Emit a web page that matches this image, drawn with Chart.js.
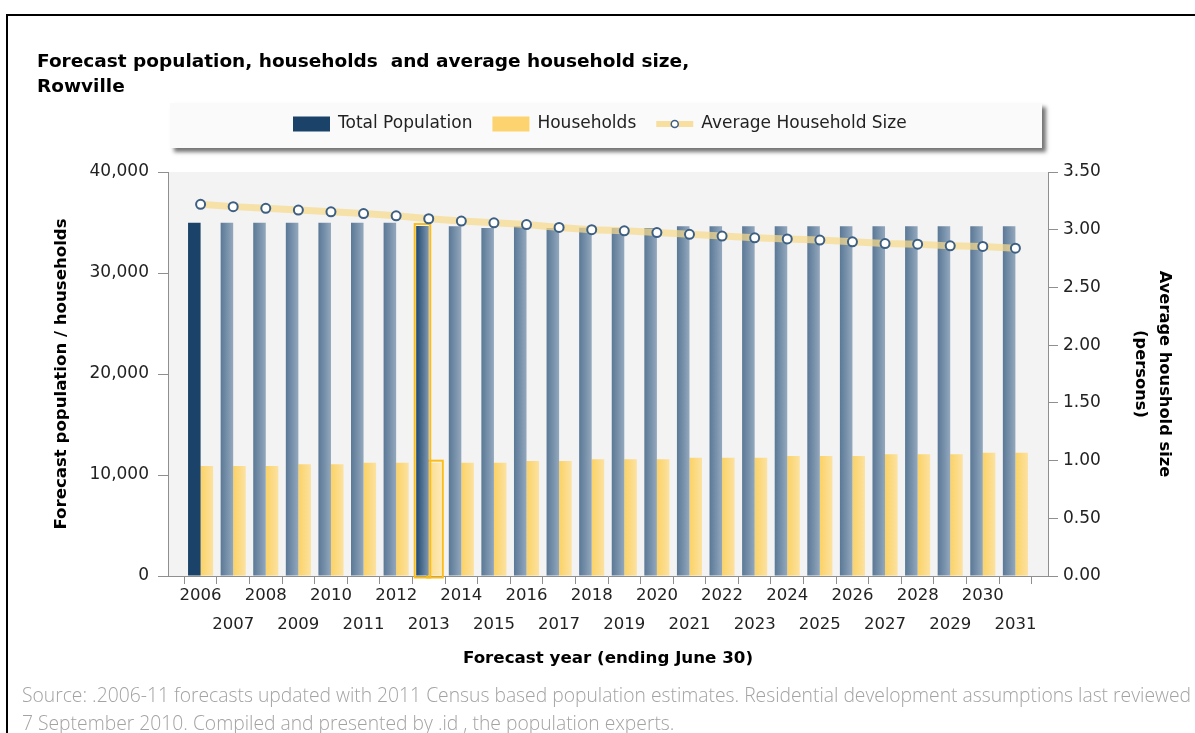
<!DOCTYPE html>
<html>
<head>
<meta charset="utf-8">
<title>Forecast population, households and average household size, Rowville</title>
<script src="https://cdn.jsdelivr.net/npm/chart.js@4.4.1/dist/chart.umd.min.js"></script>
<style>
  html, body { margin: 0; padding: 0; background: #fff; width: 1195px; height: 733px; overflow: hidden; }
  #frame { position: absolute; left: 6px; top: 14px; width: 1400px; height: 900px;
           border-left: 2px solid #000; border-top: 2px solid #000; }
  #wrap { position: absolute; left: 0; top: 0; width: 1195px; height: 690px; }
  #source { position: absolute; left: 22px; top: 681px; font-family: "Open Sans", sans-serif;
            font-weight: 300; font-size: 19.3px; line-height: 28px; color: #a3a3a3; white-space: nowrap; }
</style>
</head>
<body>
<div id="frame"></div>
<div id="wrap"><canvas id="chart" width="1195" height="690"></canvas></div>
<div id="source">Source: .2006-11 forecasts updated with 2011 Census based population estimates. Residential development assumptions last reviewed<br>7 September 2010. Compiled and presented by .id , the population experts.</div>

<script>
// Forecast years (ending June 30)
const years = [2006, 2007, 2008, 2009, 2010, 2011, 2012, 2013, 2014, 2015, 2016, 2017, 2018,
               2019, 2020, 2021, 2022, 2023, 2024, 2025, 2026, 2027, 2028, 2029, 2030, 2031];

// Total population per year
const totalPopulation = [34980, 34980, 34980, 34980, 34980, 34980, 34980, 34650, 34620, 34460,
                         34620, 34450, 34490, 34460, 34460, 34620, 34620, 34620, 34620, 34620,
                         34620, 34620, 34620, 34620, 34620, 34620];

// Number of households per year
const households = [10890, 10890, 10890, 11060, 11060, 11220, 11220, 11220, 11220, 11220,
                    11390, 11390, 11550, 11550, 11550, 11720, 11720, 11720, 11880, 11880,
                    11880, 12050, 12050, 12050, 12210, 12210];

// Average household size (persons)
const avgHouseholdSize = [3.22, 3.20, 3.185, 3.17, 3.155, 3.14, 3.12, 3.095, 3.075, 3.06,
                          3.045, 3.02, 3.00, 2.99, 2.975, 2.96, 2.945, 2.93, 2.92, 2.91,
                          2.895, 2.88, 2.875, 2.86, 2.855, 2.84];

// Axis ranges
const popAxis = { min: 0, max: 40000, step: 10000 };
const sizeAxis = { min: 0, max: 3.5, step: 0.5 };

const selectedYear = 2006;   // drawn in solid navy
const highlightYear = 2013;  // outlined in gold

const FONT = '"DejaVu Sans", Verdana, sans-serif';
const CAT_PCT = 0.77;

Chart.defaults.font.family = FONT;
Chart.defaults.color = '#222';

// Horizontal shading across each bar
function shadedBar(datasetSide, normal, selected, highlighted) {
  return (c) => {
    if (c.type !== 'data') return normal[0];
    const chart = c.chart;
    const xs = chart.scales.x;
    const yr = years[c.dataIndex];
    let stops = normal;
    if (yr === selectedYear && selected) return selected;
    if (yr === highlightYear && highlighted) stops = highlighted;
    if (!xs || !isFinite(xs.getPixelForValue(yr))) return stops[0];
    const cx = xs.getPixelForValue(yr);
    const w = (xs.getPixelForValue(yr + 1) - cx) * CAT_PCT / 2;
    const x0 = datasetSide === 0 ? cx - w : cx;
    const g = chart.ctx.createLinearGradient(x0, 0, x0 + w, 0);
    g.addColorStop(0, stops[0]);
    g.addColorStop(1, stops[1]);
    return g;
  };
}

// Light grey plot background
const plotBackground = {
  id: 'plotBackground',
  beforeDraw(chart) {
    const { ctx, chartArea: a } = chart;
    ctx.save();
    ctx.fillStyle = '#f3f3f3';
    ctx.fillRect(a.left, a.top, a.right - a.left, a.bottom - a.top);
    ctx.restore();
  }
};

// Gold outline around the highlighted year's bars
const highlightOutline = {
  id: 'highlightOutline',
  afterDatasetDraw(chart, args) {
    if (args.meta.type !== 'bar') return;
    const i = years.indexOf(highlightYear);
    const el = args.meta.data[i];
    if (!el) return;
    const { x, y, base, width } = el.getProps(['x', 'y', 'base', 'width'], true);
    const ctx = chart.ctx;
    ctx.save();
    ctx.strokeStyle = '#fdbd17';
    ctx.lineWidth = 2;
    ctx.strokeRect(x - width / 2 - 1.5, y - 2, width + 3, base - y + 4);
    ctx.restore();
  }
};

// Legend panel with drop shadow
const LEGEND = { top: 103, bottom: 148, startOffset: 123, gap: 20, boxW: 37, boxH: 15, textGap: 8 };
const panelLegend = {
  id: 'panelLegend',
  afterDraw(chart) {
    const { ctx, chartArea: a } = chart;
    const left = a.left + 2, right = a.right - 6;
    ctx.save();
    ctx.shadowColor = 'rgba(0,0,0,0.55)';
    ctx.shadowOffsetX = 4;
    ctx.shadowOffsetY = 4;
    ctx.shadowBlur = 4;
    ctx.fillStyle = '#fafafa';
    ctx.fillRect(left, LEGEND.top, right - left, LEGEND.bottom - LEGEND.top);
    ctx.restore();

    ctx.save();
    ctx.font = '17px ' + FONT;
    ctx.textBaseline = 'middle';
    ctx.fillStyle = '#222';
    const cy = (LEGEND.top + LEGEND.bottom) / 2 - 1.5;
    let x = left + LEGEND.startOffset;
    chart.data.datasets.forEach((ds) => {
      if (ds.type === 'line') {
        ctx.strokeStyle = 'rgba(247,220,150,0.9)';
        ctx.lineWidth = 6;
        ctx.beginPath();
        ctx.moveTo(x, cy);
        ctx.lineTo(x + LEGEND.boxW, cy);
        ctx.stroke();
        ctx.beginPath();
        ctx.arc(x + LEGEND.boxW / 2, cy, 3.5, 0, Math.PI * 2);
        ctx.fillStyle = '#fff';
        ctx.fill();
        ctx.lineWidth = 1.5;
        ctx.strokeStyle = '#3d5f82';
        ctx.stroke();
      } else {
        ctx.fillStyle = ds.legendColor;
        ctx.fillRect(x, cy - LEGEND.boxH / 2, LEGEND.boxW, LEGEND.boxH);
      }
      x += LEGEND.boxW + LEGEND.textGap;
      ctx.fillStyle = '#222';
      ctx.fillText(ds.label, x, cy);
      x += ctx.measureText(ds.label).width + LEGEND.gap;
    });
    ctx.restore();
  }
};

const axisGrey = '#8f8f8f';

new Chart(document.getElementById('chart'), {
  type: 'bar',
  data: {
    datasets: [
      {
        label: 'Total Population',
        legendColor: '#1b4369',
        yAxisID: 'y',
        data: years.map((yr, i) => ({ x: yr, y: totalPopulation[i] })),
        backgroundColor: shadedBar(0, ['#5a7896', '#93a8bd'], '#1b4369', ['#1e4870', '#8198b0']),
        borderWidth: 0,
        barPercentage: 1,
        categoryPercentage: CAT_PCT,
        order: 0
      },
      {
        label: 'Households',
        legendColor: '#fdd36f',
        yAxisID: 'y',
        data: years.map((yr, i) => ({ x: yr, y: households[i] })),
        backgroundColor: shadedBar(1, ['#fbd265', '#fce2a1'], null, ['#fbdc8c', '#fde9b6']),
        borderWidth: 0,
        barPercentage: 1,
        categoryPercentage: CAT_PCT,
        order: 0
      },
      {
        type: 'line',
        label: 'Average Household Size',
        yAxisID: 'y1',
        data: years.map((yr, i) => ({ x: yr, y: avgHouseholdSize[i] })),
        borderColor: 'rgba(247,218,140,0.72)',
        borderWidth: 7,
        tension: 0,
        pointRadius: 4.5,
        pointBackgroundColor: '#ffffff',
        pointBorderColor: '#3d5f82',
        pointBorderWidth: 2,
        order: -1
      }
    ]
  },
  options: {
    responsive: false,
    animation: false,
    devicePixelRatio: 1,
    events: [],
    layout: { padding: { left: 37, right: 19, top: 0, bottom: 0 } },
    plugins: {
      legend: { display: false },
      tooltip: { enabled: false },
      title: {
        display: true,
        text: ['Forecast population, households  and average household size,', 'Rowville'],
        align: 'start',
        color: '#000',
        font: { family: FONT, size: 18.5, weight: 'bold', lineHeight: '25px' },
        padding: { top: 50, bottom: 72 }
      }
    },
    scales: {
      x: {
        type: 'linear',
        min: years[0] - 1,
        max: years[years.length - 1] + 1,
        offset: false,
        afterFit: (s) => { s.height = 114; },
        border: { display: true, color: axisGrey, width: 1 },
        grid: { drawOnChartArea: false, drawTicks: true, tickLength: 8, color: axisGrey },
        ticks: {
          stepSize: 1,
          autoSkip: false,
          maxRotation: 0,
          padding: -3,
          color: '#222',
          font: { size: 16.5, lineHeight: '29px' },
          callback: (v) => {
            if (!years.includes(v)) return '';
            return (v - years[0]) % 2 === 0 ? [String(v), ''] : ['', String(v)];
          }
        },
        title: {
          display: true,
          text: 'Forecast year (ending June 30)',
          color: '#000',
          font: { size: 16.7, weight: 'bold', lineHeight: 1.2 },
          padding: { top: 0, bottom: 21 }
        }
      },
      y: {
        position: 'left',
        min: popAxis.min,
        max: popAxis.max,
        afterFit: (s) => { s.width = 131; },
        border: { display: true, color: axisGrey, width: 1 },
        grid: { drawOnChartArea: false, drawTicks: true, tickLength: 10, color: axisGrey },
        ticks: {
          stepSize: popAxis.step,
          padding: 9,
          color: '#222',
          font: { size: 17 },
          callback: (v) => v.toLocaleString('en-US')
        },
        title: {
          display: true,
          text: 'Forecast population / households',
          color: '#000',
          font: { size: 16.6, weight: 'bold', lineHeight: 1.2 },
          padding: { top: 15, bottom: 0 }
        }
      },
      y1: {
        position: 'right',
        min: sizeAxis.min,
        max: sizeAxis.max,
        afterFit: (s) => { s.width = 128; },
        border: { display: true, color: axisGrey, width: 1 },
        grid: { drawOnChartArea: false, drawTicks: true, tickLength: 10, color: axisGrey },
        ticks: {
          stepSize: sizeAxis.step,
          padding: 5,
          color: '#222',
          font: { size: 17 },
          callback: (v) => Number(v).toFixed(2)
        },
        title: {
          display: true,
          text: ['Average houshold size', '(persons)'],
          color: '#000',
          font: { size: 16.3, weight: 'bold', lineHeight: '24px' },
          padding: { top: 0, bottom: 0 }
        }
      }
    }
  },
  plugins: [plotBackground, highlightOutline, panelLegend]
});
</script>
</body>
</html>
